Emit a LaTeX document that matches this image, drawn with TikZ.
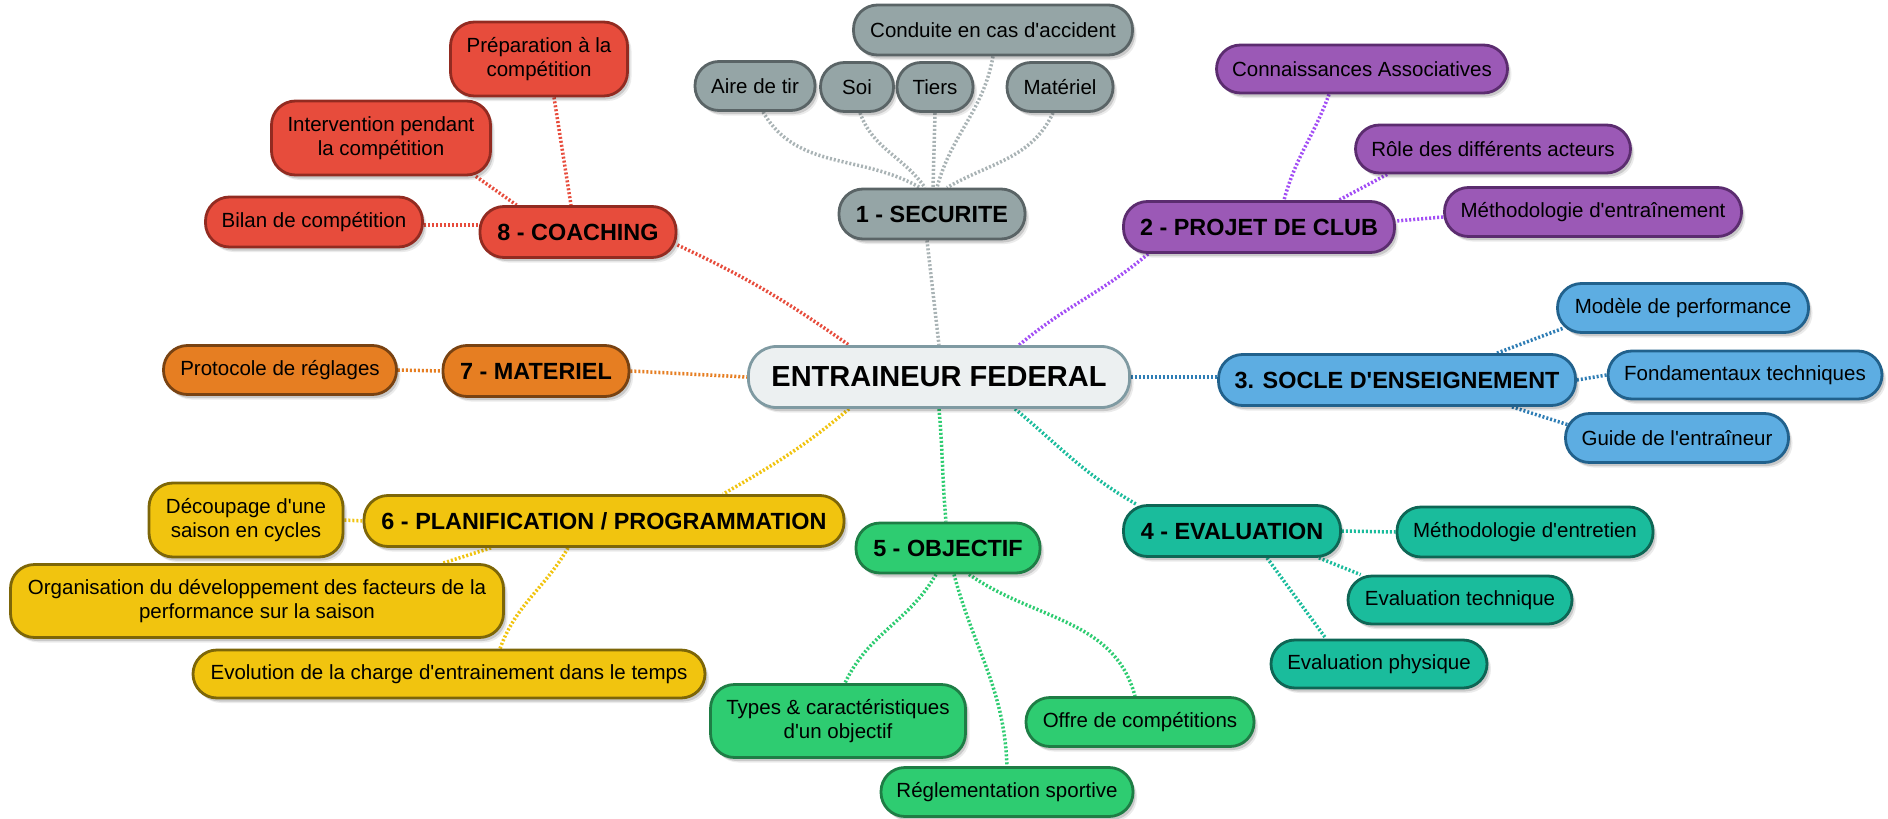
\documentclass[tikz,border=0pt]{standalone}
\usepackage{fontspec}
\setmainfont{Liberation Sans}
\usetikzlibrary{shadows}
\newcommand{\ap}{\textquotesingle}
\pgfdeclarelayer{back}
\pgfdeclarelayer{bg}
\pgfsetlayers{back,bg,main}
\definecolor{cgray}{HTML}{95A5A6}\definecolor{cgrayd}{HTML}{5A6466}\definecolor{cgrayl}{HTML}{A9B3B5}
\definecolor{ccen}{HTML}{ECF0F1}\definecolor{ccend}{HTML}{7F9AA2}
\definecolor{cpur}{HTML}{9B59B6}\definecolor{cpurd}{HTML}{5B2C6F}\definecolor{cpurl}{HTML}{A24DF5}
\definecolor{cblu}{HTML}{5DADE2}\definecolor{cblud}{HTML}{21618C}\definecolor{cblul}{HTML}{2E7DB5}
\definecolor{ctea}{HTML}{1ABC9C}\definecolor{cttead}{HTML}{0E6655}\definecolor{cteal}{HTML}{1ABC9C}
\definecolor{cgre}{HTML}{2ECC71}\definecolor{cgred}{HTML}{1E7D45}\definecolor{cgrel}{HTML}{2ECC71}
\definecolor{cyel}{HTML}{F1C40F}\definecolor{cyeld}{HTML}{7D6608}\definecolor{cyell}{HTML}{F1C40F}
\definecolor{cora}{HTML}{E67E22}\definecolor{corad}{HTML}{784212}\definecolor{coral}{HTML}{E67E22}
\definecolor{cred}{HTML}{E74C3C}\definecolor{credd}{HTML}{922B21}\definecolor{credl}{HTML}{E74C3C}
\tikzset{
  box/.style={rounded corners=24pt, line width=2.8pt, minimum height=49pt, inner sep=0pt,
    align=center, text=black, font=\fontsize{20.5}{24.5}\selectfont,
    drop shadow={shadow xshift=4pt, shadow yshift=-5pt, fill=black, opacity=0.08},
    drop shadow={shadow xshift=2.5pt, shadow yshift=-3.5pt, fill=black, opacity=0.14}},
  mainbox/.style={box, font=\fontsize{23.4}{28}\selectfont\bfseries, minimum height=51pt},
  link/.style={line width=3.5pt, dash pattern=on 2pt off 2pt},
  gbox/.style={fill=cgray, draw=cgrayd},
  pbox/.style={fill=cpur, draw=cpurd},
  bbox/.style={fill=cblu, draw=cblud},
  tbox/.style={fill=ctea, draw=cttead},
  ebox/.style={fill=cgre, draw=cgred},
  ybox/.style={fill=cyel, draw=cyeld},
  obox/.style={fill=cora, draw=corad},
  rbox/.style={fill=cred, draw=credd},
  glink/.style={link, draw=cgrayl},
  plink/.style={link, draw=cpurl},
  blink/.style={link, draw=cblul},
  tlink/.style={link, draw=cteal},
  elink/.style={link, draw=cgrel},
  ylink/.style={link, draw=cyell},
  olink/.style={link, draw=coral},
  rlink/.style={link, draw=credl},
}
\begin{document}
\begin{tikzpicture}[x=1pt,y=-1pt]
\begin{pgfonlayer}{back}
\fill[white] (0,0) rectangle (1888,819);
\end{pgfonlayer}
\useasboundingbox (0,0) rectangle (1888,819);

% center
\node[box, fill=ccen, draw=ccend, minimum width=381pt, minimum height=61pt, rounded corners=28pt,
  font=\fontsize{29}{34}\selectfont\bfseries] (cen) at (939,377) {ENTRAINEUR FEDERAL};

% 1 securite
\node[mainbox, gbox, minimum width=186pt, minimum height=50pt] (sec) at (932,214) {1 - SECURITE};
\node[box, gbox, minimum width=120pt] (aire) at (755,86) {Aire de tir};
\node[box, gbox, minimum width=73pt] (soi) at (857,87) {Soi};
\node[box, gbox, minimum width=76pt] (tiers) at (935,87) {Tiers};
\node[box, gbox, minimum width=106pt] (mat) at (1060,87) {Matériel};
\node[box, gbox, minimum width=279pt, minimum height=50pt] (cond) at (993,30) {Conduite en cas d\ap accident};

% 2 projet de club
\node[mainbox, pbox, minimum width=271pt] (club) at (1259,227) {2 - PROJET DE CLUB};
\node[box, pbox, minimum width=291pt, minimum height=48pt] (conn) at (1362,69) {Connaissances Associatives};
\node[box, pbox, minimum width=275pt, minimum height=48pt] (role) at (1493,149) {Rôle des différents acteurs};
\node[box, pbox, minimum width=297pt] (meth) at (1593,212) {Méthodologie d\ap entraînement};

% 3 socle
\node[mainbox, bbox, minimum width=357pt] (socle) at (1397,380) {3. SOCLE D\ap ENSEIGNEMENT};
\node[box, bbox, minimum width=251pt] (modele) at (1683,308) {Modèle de performance};
\node[box, bbox, minimum width=274pt, minimum height=48pt] (fond) at (1745,375) {Fondamentaux techniques};
\node[box, bbox, minimum width=223pt] (guide) at (1677,438) {Guide de l\ap entraîneur};

% 4 evaluation
\node[mainbox, tbox, minimum width=217pt] (eval) at (1232,531) {4 - EVALUATION};
\node[box, tbox, minimum width=256pt, minimum height=50pt] (entr) at (1525,532) {Méthodologie d\ap entretien};
\node[box, tbox, minimum width=224pt, minimum height=48pt] (evtech) at (1460,600) {Evaluation technique};
\node[box, tbox, minimum width=216pt, minimum height=48pt] (evphys) at (1379,664) {Evaluation physique};

% 5 objectif
\node[mainbox, ebox, minimum width=184pt, minimum height=50pt] (obj) at (948,548) {5 - OBJECTIF};
\node[box, ebox, minimum width=255pt, minimum height=73pt] (types) at (838,721) {Types \& caractéristiques\\d\ap un objectif};
\node[box, ebox, minimum width=228pt] (offre) at (1140,722) {Offre de compétitions};
\node[box, ebox, minimum width=252pt] (regl) at (1007,792) {Réglementation sportive};

% 6 planification
\node[mainbox, ybox, minimum width=480pt] (plan) at (604,521) {6 - PLANIFICATION / PROGRAMMATION};
\node[box, ybox, minimum width=194pt, minimum height=74pt] (decoup) at (246,520) {Découpage d\ap une\\saison en cycles};
\node[box, ybox, minimum width=493pt, minimum height=73pt] (organ) at (257,601) {Organisation du développement des facteurs de la\\performance sur la saison};
\node[box, ybox, minimum width=512pt, minimum height=48pt] (evol) at (449,674) {Evolution de la charge d\ap entrainement dans le temps};

% 7 materiel
\node[mainbox, obox, minimum width=186pt] (materiel) at (536,371) {7 - MATERIEL};
\node[box, obox, minimum width=233pt] (proto) at (280,370) {Protocole de réglages};

% 8 coaching
\node[mainbox, rbox, minimum width=196pt] (coach) at (578,232) {8 - COACHING};
\node[box, rbox, minimum width=217pt, minimum height=50pt] (bilan) at (314,222) {Bilan de compétition};
\node[box, rbox, minimum width=219pt, minimum height=74pt] (interv) at (381,138) {Intervention pendant\\la compétition};
\node[box, rbox, minimum width=177pt, minimum height=74pt] (prep) at (539,59) {Préparation à la\\compétition};

\begin{pgfonlayer}{bg}
% gray
\draw[glink] ([xshift=-5pt]sec.south) -- (cen.north);
\draw[glink] ([xshift=8pt]aire.south) to[out=-60,in=150] ([xshift=-12pt]sec.north);
\draw[glink] ([xshift=3pt]soi.south) to[out=-70,in=125] ([xshift=-7pt]sec.north);
\draw[glink] (tiers.south) -- ([xshift=1pt]sec.north);
\draw[glink] (cond.south) to[out=-100,in=75] ([xshift=5pt]sec.north);
\draw[glink] ([xshift=-7pt]mat.south) to[out=-115,in=30] ([xshift=15pt]sec.north);
% purple
\draw[plink] ([xshift=26pt]club.south west) to[out=-140,in=40] ([xshift=80pt]cen.north);
\draw[plink] ([xshift=-33pt]conn.south) to[out=-110,in=75] ([xshift=25pt]club.north);
\draw[plink] ([xshift=33pt]role.south west) -- ([xshift=80pt]club.north);
\draw[plink] ([yshift=-5pt]meth.west) -- ([yshift=6pt]club.east);
% blue
\draw[blink] (cen.east) -- ([yshift=3pt]socle.west);
\draw[blink] ([xshift=100pt]socle.north) -- ([xshift=8pt,yshift=6pt]modele.south west);
\draw[blink] (socle.east) -- (fond.west);
\draw[blink] ([xshift=115pt]socle.south) -- ([xshift=5pt,yshift=-13pt]guide.north west);
% teal
\draw[tlink] ([xshift=76pt]cen.south) to[out=-40,in=150] ([xshift=14pt]eval.north west);
\draw[tlink] (eval.east) -- (entr.west);
\draw[tlink] ([xshift=-23pt]eval.south east) -- ([xshift=14pt]evtech.north west);
\draw[tlink] ([xshift=35pt]eval.south) -- ([xshift=-53pt]evphys.north);
% green
\draw[elink] (cen.south) to[out=-85,in=95] ([xshift=-2pt]obj.north);
\draw[elink] ([xshift=-12pt]obj.south) to[out=-120,in=65] ([xshift=7pt]types.north);
\draw[elink] ([xshift=6pt]obj.south) to[out=-75,in=92] (regl.north);
\draw[elink] ([xshift=21pt]obj.south) to[out=-35,in=105] ([xshift=-5pt]offre.north);
% yellow
\draw[ylink] ([xshift=-90pt]cen.south) to[out=-140,in=30] ([xshift=119pt]plan.north);
\draw[ylink] (decoup.east) -- (plan.west);
\draw[ylink] ([xshift=-113pt]plan.south) -- ([xshift=186pt]organ.north);
\draw[ylink] ([xshift=-36pt]plan.south) to[out=-120,in=70] ([xshift=51pt]evol.north);
% orange
\draw[olink] (materiel.east) -- (cen.west);
\draw[olink] (proto.east) -- (materiel.west);
% red
\draw[rlink] ([yshift=-13pt]coach.east) to[out=-25,in=145] ([xshift=-90pt]cen.north);
\draw[rlink] ([yshift=-3pt]bilan.east) -- ([yshift=7pt]coach.west);
\draw[rlink] ([xshift=-16pt]interv.south east) -- ([xshift=38pt]coach.north west);
\draw[rlink] ([xshift=15pt]prep.south) -- ([xshift=-7pt]coach.north);
\end{pgfonlayer}
\end{tikzpicture}
\end{document}
